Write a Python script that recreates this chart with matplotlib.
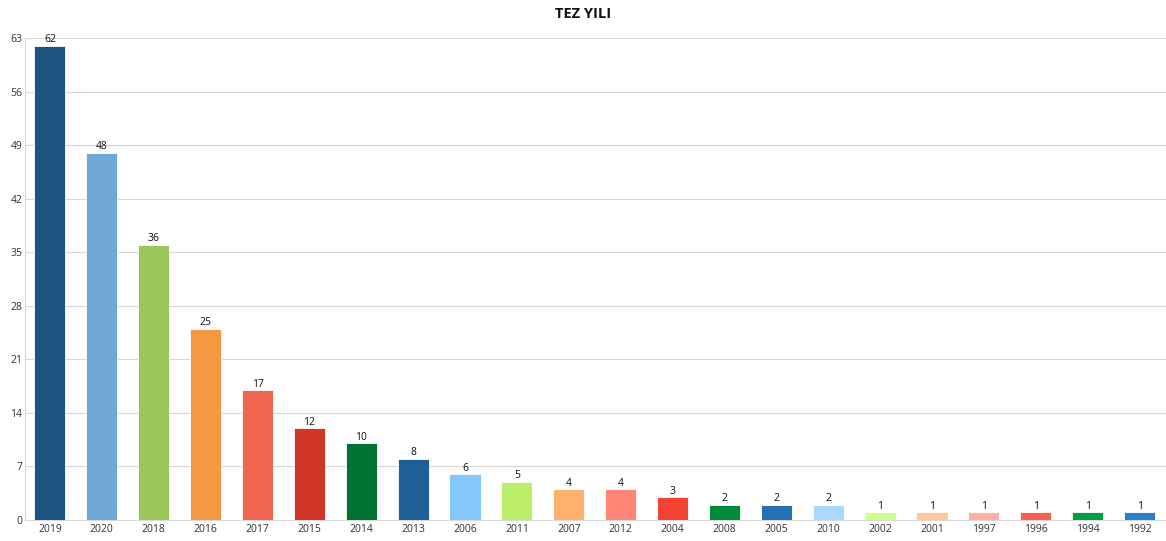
import matplotlib
matplotlib.use("Agg")
import matplotlib.pyplot as plt
import numpy as np

years = ["2019", "2020", "2018", "2016", "2017", "2015", "2014", "2013", "2006", "2011", "2007",
         "2012", "2004", "2008", "2005", "2010", "2002", "2001", "1997", "1996", "1994", "1992"]
counts = [62, 48, 36, 25, 17, 12, 10, 8, 6, 5, 4, 4, 3, 2, 2, 2, 1, 1, 1, 1, 1, 1]
colors = ["#1d5381", "#6fa7d5", "#9bc65a", "#f59842", "#f06650", "#cf3628", "#007332", "#1f5f97",
          "#84c7fd", "#bcee6c", "#ffb06c", "#ff8677", "#f44434", "#008a3a", "#2472b3", "#acd8ff",
          "#ccff88", "#ffc896", "#ffb0a6", "#ff5f50", "#009e46", "#2980cf"]
yticks = [0, 7, 14, 21, 28, 35, 42, 49, 56, 63]

plt.rcParams['font.family'] = ['Open Sans', 'DejaVu Sans']

fig = plt.figure(figsize=(11.66, 5.41), dpi=100)
ax = fig.add_axes([25/1166, 21/541, 1 - 25/1166 - 0.5/1166, (520-38)/541])

x = np.arange(len(years))
bars = ax.bar(x, counts, width=0.6, color=colors, edgecolor="white", linewidth=0.6, zorder=3)
for xi, c in zip(x, counts):
    ax.text(xi, c + 0.05, str(c), ha="center", va="bottom", fontsize=7.5, color="#111111", zorder=4)

ax.set_xlim(-0.48, len(years) - 0.5)
ax.set_ylim(0, 63)
ax.set_yticks(yticks)
ax.set_yticklabels([str(v) for v in yticks], fontsize=7.5, color="#333333")
ax.set_xticks(x)
ax.set_xticklabels(years, fontsize=7.5, color="#333333")
ax.tick_params(axis="both", length=0, pad=3)
ax.tick_params(axis="y", pad=2)
ax.grid(axis="y", color="#d6d6d6", linewidth=0.8, zorder=0)
for s in ["top", "right"]:
    ax.spines[s].set_visible(False)
ax.spines["left"].set_color("#d9d9d9")
ax.spines["bottom"].set_color("#d9d9d9")
ax.spines["left"].set_linewidth(0.8)
ax.spines["bottom"].set_linewidth(0.8)

fig.text(0.5, 1 - 14/541, "TEZ YILI", ha="center", va="center", fontsize=10.5, fontweight="bold", color="#111111")

fig.savefig("out.png", dpi=100)
